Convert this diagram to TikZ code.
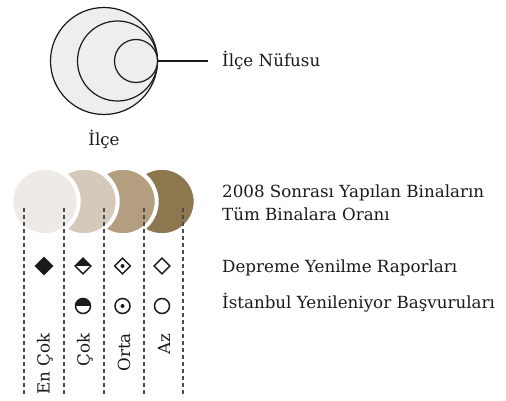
\documentclass[tikz,border=0pt]{standalone}
\usepackage{fontspec}
\setmainfont{DejaVu Serif}
\usetikzlibrary{shapes.geometric}

\definecolor{ringfill}{HTML}{EEEEEC}
\definecolor{shadeA}{HTML}{EEEBE6}
\definecolor{shadeB}{HTML}{D5CAB9}
\definecolor{shadeC}{HTML}{B39E7F}
\definecolor{shadeD}{HTML}{8D774F}
\definecolor{ink}{HTML}{1A1A1A}

\tikzset{
  ring/.style={circle, draw=ink, line width=1.2pt, fill=ringfill, inner sep=0pt, outer sep=0pt},
  swatch/.style={circle, draw=white, line width=4pt, inner sep=0pt, outer sep=0pt, minimum size=67.4pt},
  guide/.style={draw=black!70, line width=1.2pt, dash pattern=on 4pt off 3pt},
  caption/.style={font=\fontsize{16.7}{22}\selectfont, text=ink, inner sep=0pt},
  dia/.style={diamond, draw=ink, line width=1.4pt, fill=white, inner sep=0pt, minimum size=16.5pt},
  dot/.style={circle, draw=ink, line width=1.5pt, fill=white, inner sep=0pt, minimum size=15pt},
  tophalf/.style={path picture={\fill[ink] (path picture bounding box.west) rectangle (path picture bounding box.north east);}},
  centredot/.style={path picture={\fill[ink] (path picture bounding box.center) circle (2pt);}}
}

\begin{document}
\begin{tikzpicture}[x=1pt, y=-1pt]
  \useasboundingbox (0,0) rectangle (506,401);

  % nested district circles, all touching at the right
  \node[ring, minimum size=107pt] (outer) at (104,61) {};
  \node[ring, minimum size=80pt]  (middle) at (117.5,61) {};
  \node[ring, minimum size=43pt]  (inner) at (136,61) {};
  \coordinate (leadend) at (208,61);
  \draw[ink, line width=1.2pt] (outer.east) -- (leadend);
  \node[caption, anchor=base west] (popl) at (222,67) {İlçe Nüfusu};
  \node[caption, anchor=base] (district) at (104,146) {İlçe};

  % colour scale, drawn right to left so each disc sits on the next
  \node[swatch, fill=shadeD] (sd) at (162,201.5) {};
  \node[swatch, fill=shadeC] (sc) at (123,201.5) {};
  \node[swatch, fill=shadeB] (sb) at (84,201.5) {};
  \node[swatch, fill=shadeA] (sa) at (45,201.5) {};

  % dashed column separators
  \foreach \i/\x in {1/24, 2/64, 3/104, 4/144, 5/183} {
    \coordinate (top\i) at (\x,208);
    \coordinate (bot\i) at (\x,397);
    \draw[guide] (top\i) -- (bot\i);
  }

  % report markers
  \node[dia, fill=ink, minimum size=17.5pt] (d1) at (44,266) {};
  \node[dia, tophalf] (d2) at (83,266) {};
  \node[dia, centredot] (d3) at (122.5,266) {};
  \node[dia] (d4) at (162,266) {};

  % application markers
  \node[dot, tophalf] (c2) at (83,306) {};
  \node[dot, centredot] (c3) at (122.5,306) {};
  \node[dot] (c4) at (162,306) {};

  % column labels
  \node[caption, rotate=90, anchor=east] (l1) at (45,333) {En Çok};
  \node[caption, rotate=90, anchor=east] (l2) at (85,333) {Çok};
  \node[caption, rotate=90, anchor=east] (l3) at (124,333) {Orta};
  \node[caption, rotate=90, anchor=east] (l4) at (164,333) {Az};

  % legend texts
  \node[caption, anchor=base west] (ratio) at (222,197) {2008 Sonrası Yapılan Binaların};
  \node[caption, anchor=base west] (ratio2) at (222,220) {Tüm Binalara Oranı};
  \node[caption, anchor=base west] (reports) at (222,272) {Depreme Yenilme Raporları};
  \node[caption, anchor=base west] (apps) at (222,308) {İstanbul Yenileniyor Başvuruları};
\end{tikzpicture}
\end{document}
